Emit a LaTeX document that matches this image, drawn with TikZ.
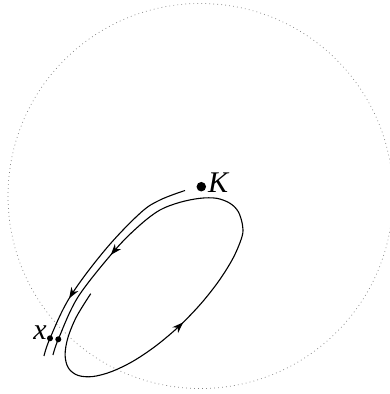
\documentclass[tikz,border=0pt]{standalone}
\usepackage{fontspec}
\setmainfont{Liberation Serif}
\usepackage{tikz}
\usetikzlibrary{arrows.meta,decorations.markings}

\begin{document}
\begin{tikzpicture}[
    x=1pt, y=-1pt,
    orbit/.style={line width=1.1pt, line join=round},
    orbittip/.tip={Stealth[length=11pt,width=8pt,inset=3.5pt]},
    bigdot/.style={circle, fill=black, inner sep=0pt, minimum size=#1},
    lbl/.style={font=\fontsize{30}{30}\selectfont\itshape, inner sep=0pt},
  ]
  \useasboundingbox (0,0) rectangle (390,394);

  % =================== Dotted circle ===================
  \draw[gray, line width=0.7pt, dash pattern=on 0.8pt off 3.2pt] (200.5,196) circle[radius=192.5];

  % =================== Points ===================
  \node[bigdot=9.5pt] (K) at (201.3,186.7) {};
  \node[lbl, anchor=base west] (Klbl) at (208,192.7) {K};
  \node[bigdot=6pt] (x1) at (50,338.3) {};
  \node[bigdot=6pt] (x2) at (58.3,339.3) {};
  \node[lbl, anchor=base east] (xlbl) at (47,339) {x};

  % =================== Direct path K -> x ===================
  \draw[orbit, postaction={decorate}, decoration={markings,
      mark=at position 0.72 with {\arrow{orbittip}}}]
    plot[smooth, tension=0.6] coordinates {
    (185,190.5) (160,200) (140,213.3) (105,250) (70,297) (x1.center) (44,356)};

  % =================== Loop around K back to x ===================
  \draw[orbit, postaction={decorate}, decoration={markings,
      mark=at position 0.35 with {\arrow{orbittip}},
      mark=at position 0.81 with {\arrow{orbittip}}}]
    plot[smooth, tension=0.55] coordinates {
    (90.7,293.7) (76.5,316.7) (67.9,337.7) (65.1,355.1) (68.4,368)
    (77.7,375.3) (92.2,376.6) (111,371.8) (132.9,361.3) (156.1,345.7)
    (179.4,326) (200.9,303.7) (219.3,280.3) (233.5,257.3) (242.1,236.3)
    (242.5,225) (238.3,211.7) (230,203.3) (216.7,198.3) (200,198.3)
    (180,202.3) (160,210) (140,225) (115,250) (78,297) (x2.center) (53,355)};

\end{tikzpicture}
\end{document}
